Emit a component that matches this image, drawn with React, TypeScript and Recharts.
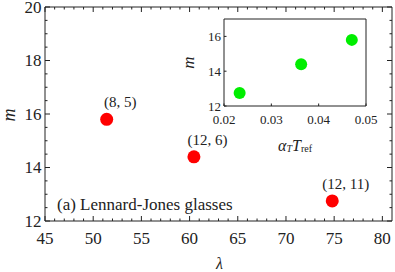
import React from 'react';
import { ScatterChart, Scatter, XAxis, YAxis } from 'recharts';

const FONT = '"Liberation Serif", "Times New Roman", "DejaVu Serif", serif';
const INK = '#222';

// Main panel data
const lambdaValues = [51.4, 60.45, 74.8];
const mValues = [15.8, 14.4, 12.75];
const pointLabels = ['(8, 5)', '(12, 6)', '(12, 11)'];
// Inset data (same m values)
const alphaTref = [0.047, 0.0363, 0.0233];

// Ticks
const mainXTicks = [45, 46, 47, 48, 49, 50, 51, 52, 53, 54, 55, 56, 57, 58, 59, 60, 61, 62, 63, 64, 65, 66, 67, 68, 69, 70, 71, 72, 73, 74, 75, 76, 77, 78, 79, 80];
const mainXLabels = [45, 50, 55, 60, 65, 70, 75, 80];
const mainYTicks = [12, 12.5, 13, 13.5, 14, 14.5, 15, 15.5, 16, 16.5, 17, 17.5, 18, 18.5, 19, 19.5, 20];
const mainYLabels = [12, 14, 16, 18, 20];
const insetXTicks = [0.02, 0.03, 0.04, 0.05];
const insetYTicks = [12, 14, 16];

const mainData = lambdaValues.map((l, i) => ({ x: l, y: mValues[i], label: pointLabels[i] }));
const insetData = alphaTref.map((a, i) => ({ x: a, y: mValues[i] }));

type Side = 'bottom' | 'top' | 'left' | 'right';
interface TickOpts {
  major: number;
  minor: number;
  fontSize: number;
  gap: number;
  showLabels: boolean;
  fmt?: (v: number) => string;
}

const txt = (size: number, italic = false): React.CSSProperties => ({
  fontFamily: FONT,
  fontSize: size,
  fontStyle: italic ? 'italic' : 'normal',
  fill: INK,
});

const makeTick = (side: Side, labels: number[], opts: TickOpts) => (props: any) => {
  const { x, y, payload } = props;
  const v = payload.value as number;
  const isMajor = labels.some((l) => Math.abs(l - v) < 1e-9);
  const len = isMajor ? opts.major : opts.minor;
  let x2 = x;
  let y2 = y;
  if (side === 'bottom') y2 = y - len;
  if (side === 'top') y2 = y + len;
  if (side === 'left') x2 = x + len;
  if (side === 'right') x2 = x - len;
  const fmt = opts.fmt || ((n: number) => String(n));
  let text: React.ReactNode = null;
  if (opts.showLabels && isMajor) {
    if (side === 'bottom') {
      text = (
        <text x={x} y={y + opts.gap} textAnchor="middle" dominantBaseline="central" style={txt(opts.fontSize)}>
          {fmt(v)}
        </text>
      );
    } else if (side === 'left') {
      text = (
        <text x={x - opts.gap} y={y} textAnchor="end" dominantBaseline="central" style={txt(opts.fontSize)}>
          {fmt(v)}
        </text>
      );
    }
  }
  return (
    <g>
      {len > 0 && <line x1={x} y1={y} x2={x2} y2={y2} stroke={INK} strokeWidth={1} />}
      {text}
    </g>
  );
};

const RedPoint = (props: any) => {
  const { cx, cy, payload } = props;
  return (
    <g>
      <circle cx={cx} cy={cy} r={6.5} fill="#ff0000" />
      <text x={cx + 13.5} y={cy - 17} textAnchor="middle" dominantBaseline="central" style={txt(15)}>
        {payload.label}
      </text>
    </g>
  );
};

const GreenPoint = (props: any) => {
  const { cx, cy } = props;
  return <circle cx={cx} cy={cy} r={6} fill="#00ee00" />;
};

const Empty = () => <g />;

const axisLine = { stroke: INK, strokeWidth: 1 };

export default function App() {
  return (
    <div style={{ position: 'absolute', left: 0, top: 0, width: 395, height: 272, background: '#fff' }}>
      <div style={{ position: 'absolute', left: 0, top: 0 }}>
        <ScatterChart width={395} height={272} margin={{ top: 0, right: 0, bottom: 0, left: 0 }}>
          <XAxis
            xAxisId="main"
            type="number"
            dataKey="x"
            domain={[45, 81]}
            ticks={mainXTicks}
            interval={0}
            height={51}
            tickSize={0}
            tickMargin={0}
            tickLine={false}
            axisLine={axisLine}
            allowDataOverflow
            tick={makeTick('bottom', mainXLabels, { major: 5, minor: 2.5, fontSize: 17, gap: 17, showLabels: true })}
            label={{
              content: (p: any) => {
                const vb = p.viewBox || {};
                return (
                  <g>
                    <text x={vb.x + vb.width / 2 + 1} y={vb.y + 42.5} textAnchor="middle" dominantBaseline="central" style={txt(16, true)}>
                      λ
                    </text>
                    <text x={vb.x + 12} y={vb.y - 16.5} textAnchor="start" dominantBaseline="central" style={txt(17)}>
                      (a) Lennard-Jones glasses
                    </text>
                  </g>
                );
              },
            }}
          />
          <XAxis
            xAxisId="top"
            orientation="top"
            type="number"
            dataKey="x"
            domain={[45, 81]}
            ticks={mainXTicks}
            interval={0}
            height={7}
            tickSize={0}
            tickMargin={0}
            tickLine={false}
            axisLine={axisLine}
            allowDataOverflow
            tick={makeTick('top', mainXLabels, { major: 5, minor: 2.5, fontSize: 17, gap: 0, showLabels: false })}
          />
          <YAxis
            yAxisId="main"
            type="number"
            dataKey="y"
            domain={[12, 20]}
            ticks={mainYTicks}
            interval={0}
            width={45}
            tickSize={0}
            tickMargin={0}
            tickLine={false}
            axisLine={axisLine}
            allowDataOverflow
            tick={makeTick('left', mainYLabels, { major: 5, minor: 2.5, fontSize: 17, gap: 3.5, showLabels: true })}
            label={{
              content: (p: any) => {
                const vb = p.viewBox || {};
                const cx = 9;
                const cy = vb.y + vb.height / 2 + 1;
                return (
                  <text x={cx} y={cy} transform={`rotate(-90 ${cx} ${cy})`} textAnchor="middle" dominantBaseline="central" style={txt(18, true)}>
                    m
                  </text>
                );
              },
            }}
          />
          <YAxis
            yAxisId="right"
            orientation="right"
            type="number"
            dataKey="y"
            domain={[12, 20]}
            ticks={mainYTicks}
            interval={0}
            width={3}
            tickSize={0}
            tickMargin={0}
            tickLine={false}
            axisLine={axisLine}
            allowDataOverflow
            tick={makeTick('right', mainYLabels, { major: 5, minor: 2.5, fontSize: 17, gap: 0, showLabels: false })}
          />
          <Scatter data={mainData} xAxisId="top" yAxisId="right" shape={Empty} isAnimationActive={false} />
          <Scatter data={mainData} xAxisId="main" yAxisId="main" shape={RedPoint} isAnimationActive={false} />
        </ScatterChart>
      </div>
      <div style={{ position: 'absolute', left: 0, top: 0 }}>
        <ScatterChart width={395} height={272} margin={{ top: 0, right: 0, bottom: 0, left: 0 }}>
          <XAxis
            xAxisId="ib"
            type="number"
            dataKey="x"
            domain={[0.02, 0.05]}
            ticks={insetXTicks}
            interval={0}
            height={166}
            tickSize={0}
            tickMargin={0}
            tickLine={false}
            axisLine={axisLine}
            allowDataOverflow
            tick={makeTick('bottom', insetXTicks, { major: 2.5, minor: 0, fontSize: 13, gap: 13, showLabels: true, fmt: (n) => n.toFixed(2) })}
            label={{
              content: (p: any) => {
                const vb = p.viewBox || {};
                const cx = vb.x + vb.width / 2;
                const cy = vb.y + 39;
                return (
                  <text x={cx} y={cy} textAnchor="middle" dominantBaseline="central" style={txt(16)}>
                    <tspan style={{ fontStyle: 'italic' }}>α</tspan>
                    <tspan style={{ fontStyle: 'italic', fontSize: 10 }} dy={3}>T</tspan>
                    <tspan style={{ fontStyle: 'italic' }} dy={-3}>T</tspan>
                    <tspan style={{ fontSize: 10 }} dy={3}>ref</tspan>
                  </text>
                );
              },
            }}
          />
          <XAxis
            xAxisId="it"
            orientation="top"
            type="number"
            dataKey="x"
            domain={[0.02, 0.05]}
            ticks={insetXTicks}
            height={19}
            tick={false}
            tickLine={false}
            axisLine={axisLine}
            allowDataOverflow
          />
          <YAxis
            yAxisId="il"
            type="number"
            dataKey="y"
            domain={[12, 17]}
            ticks={insetYTicks}
            interval={0}
            width={224}
            tickSize={0}
            tickMargin={0}
            tickLine={false}
            axisLine={axisLine}
            allowDataOverflow
            tick={makeTick('left', insetYTicks, { major: 2.5, minor: 0, fontSize: 13, gap: 3, showLabels: true })}
            label={{
              content: (p: any) => {
                const vb = p.viewBox || {};
                const cx = 188;
                const cy = vb.y + vb.height / 2;
                return (
                  <text x={cx} y={cy} transform={`rotate(-90 ${cx} ${cy})`} textAnchor="middle" dominantBaseline="central" style={txt(17, true)}>
                    m
                  </text>
                );
              },
            }}
          />
          <YAxis
            yAxisId="ir"
            orientation="right"
            type="number"
            dataKey="y"
            domain={[12, 17]}
            ticks={insetYTicks}
            width={29}
            tick={false}
            tickLine={false}
            axisLine={axisLine}
            allowDataOverflow
          />
          <Scatter data={insetData} xAxisId="it" yAxisId="ir" shape={Empty} isAnimationActive={false} />
          <Scatter data={insetData} xAxisId="ib" yAxisId="il" shape={GreenPoint} isAnimationActive={false} />
        </ScatterChart>
      </div>
    </div>
  );
}
